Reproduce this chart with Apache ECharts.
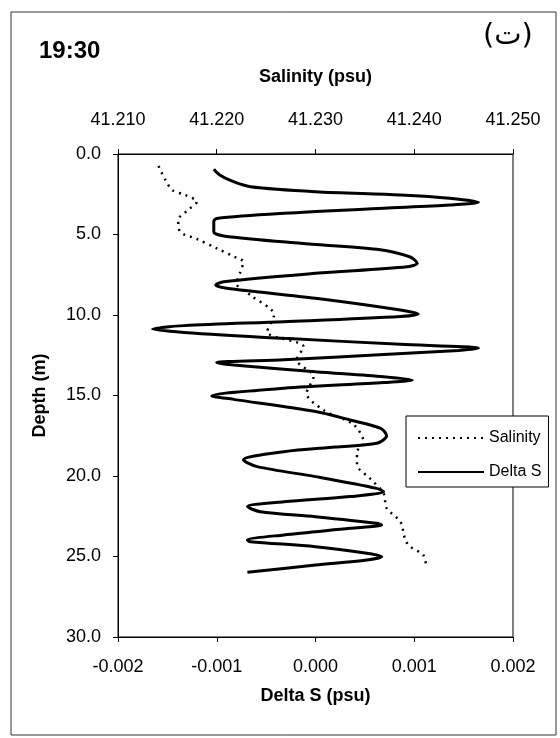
<!DOCTYPE html>
<html>
<head>
<meta charset="utf-8">
<script src="https://cdn.jsdelivr.net/npm/echarts@6/dist/echarts.min.js"></script>
<style>
html, body { margin: 0; padding: 0; background: #fff; }
#chart { width: 560px; height: 738px; }
</style>
</head>
<body>
<div id="chart"></div>
<script>
// Delta S profile (depth in m, value in psu)
var deltaDepth = [0.95, 1.3, 1.72, 2.03, 2.34, 2.55, 2.75, 3.0, 3.17, 3.37, 3.68, 4.0, 4.2, 4.83, 5.09, 5.55, 5.92, 6.4,
  6.79, 7.0, 7.41, 7.93, 8.14, 8.34, 8.96, 9.69, 9.94, 10.1, 10.42, 10.66, 10.87, 11.08, 11.45, 11.82, 12.07, 12.2,
  12.46, 12.78, 12.96, 13.1, 13.52, 13.83, 14.04, 14.2, 14.55, 15.03, 15.24, 16.0, 16.52, 17.04, 17.5, 17.97, 18.2,
  18.49, 19.0, 19.42, 20.04, 20.77, 20.97, 21.28, 21.6, 21.9, 22.22, 22.53, 22.94, 23.04, 23.25, 23.66, 23.98, 24.08,
  24.39, 24.8, 25.01, 25.22, 25.53, 25.98];
var deltaS = [-0.00103, -0.00097, -0.00083, -0.00066, 0.0, 0.00086, 0.00136, 0.00165, 0.00136, 0.00069, -0.00032, -0.00100, -0.00103, -0.00103, -0.00093, -0.00015, 0.00062, 0.00096,
  0.00103, 0.00093, 0.0, -0.00093, -0.00101, -0.00090, 0.0, 0.00086, 0.00104, 0.00086, -0.00032, -0.00133, -0.00165, -0.00133, -0.00032, 0.00086, 0.00165, 0.00145,
  0.00069, -0.00032, -0.00100, -0.00083, 0.0, 0.00069, 0.00098, 0.00069, -0.00032, -0.00105, -0.00083, 0.0, 0.00035, 0.00066, 0.00072, 0.00062, 0.00020,
  -0.00032, -0.00073, -0.00059, 0.0, 0.00062, 0.00069, 0.00035, -0.00032, -0.00069, -0.00056, 0.0, 0.00062, 0.00067, 0.00035, -0.00032, -0.00069, -0.00066,
  0.0, 0.00052, 0.00067, 0.00052, 0.0, -0.00069];

// Salinity profile (depth in m, value in psu)
var salDepth = [0.75, 1.61, 2.24, 2.55, 2.96, 3.43, 4.1, 4.83, 5.28, 5.86, 6.45, 6.69, 7.31, 8.03, 8.76, 10.0, 11.04,
  11.97, 12.8, 13.83, 14.86, 15.9, 16.83, 17.97, 18.49, 19.3, 20.14, 21.08, 22.0, 22.84, 23.98, 24.39, 24.9, 25.53];
var salinity = [41.2141, 41.2148, 41.2155, 41.2168, 41.2180, 41.2172, 41.2161, 41.2163, 41.2180, 41.2200, 41.2220, 41.2227, 41.2224, 41.2220, 41.2234, 41.2258, 41.2251,
  41.2288, 41.2281, 41.2298, 41.2291, 41.2308, 41.2339, 41.2349, 41.2342, 41.2342, 41.2355, 41.2369, 41.2372, 41.2386, 41.2391, 41.2396, 41.2409, 41.2412];

// axis ranges
var depthRange = [0, 30, 5];
var deltaRange = [-0.002, 0.002, 0.001];
var salRange = [41.21, 41.25, 0.01];

function pairs(xs, ys) {
  return xs.map(function (x, i) { return [x, ys[i]]; });
}

var font = 'Liberation Sans';
var nameStyle = { fontFamily: font, fontSize: 18, fontWeight: 'bold', color: '#000' };
var chart = echarts.init(document.getElementById('chart'));
chart.setOption({
  animation: false,
  textStyle: { fontFamily: font, color: '#000' },
  graphic: [
    {
      type: 'rect', silent: true, z: 0,
      shape: { x: 11, y: 12, width: 545, height: 723 },
      style: { fill: 'none', stroke: '#333', lineWidth: 1 }
    },
    {
      type: 'text', left: 39, top: 39,
      style: { text: '19:30', font: 'bold 24px "Liberation Sans"', fill: '#000' }
    },
    {
      type: 'text', left: 483, top: 22,
      style: { text: '(ت)', font: '29px "DejaVu Sans"', fill: '#000' }
    }
  ],
  grid: {
    left: 118, right: 47, top: 154, bottom: 101,
    show: true, borderColor: '#000', borderWidth: 1, backgroundColor: 'transparent'
  },
  legend: {
    orient: 'vertical',
    left: 406, top: 416,
    data: ['Salinity', 'Delta S'],
    itemWidth: 66, itemHeight: 14, itemGap: 18,
    padding: [14, 7, 7, 11],
    backgroundColor: '#fff',
    borderColor: '#000', borderWidth: 1,
    itemStyle: { color: 'rgba(0,0,0,0)', borderColor: 'rgba(0,0,0,0)', borderWidth: 0 },
    textStyle: { fontFamily: font, fontSize: 16, color: '#000' }
  },
  xAxis: [
    {
      type: 'value', position: 'bottom',
      min: deltaRange[0], max: deltaRange[1], interval: deltaRange[2],
      name: 'Delta S (psu)', nameLocation: 'middle', nameGap: 50, nameTextStyle: nameStyle,
      axisLine: { show: true, onZero: false, lineStyle: { color: '#000', width: 1 } },
      axisTick: { show: true, length: 5, lineStyle: { color: '#000' } },
      axisLabel: { margin: 21, fontSize: 18, color: '#000', fontFamily: font,
        formatter: function (v) { return v.toFixed(3); } },
      splitLine: { show: false }
    },
    {
      type: 'value', position: 'top',
      min: salRange[0], max: salRange[1], interval: salRange[2],
      name: 'Salinity (psu)', nameLocation: 'middle', nameGap: 68, nameTextStyle: nameStyle,
      axisLine: { show: true, onZero: false, lineStyle: { color: '#000', width: 1 } },
      axisTick: { show: true, length: 5, lineStyle: { color: '#000' } },
      axisLabel: { margin: 25, fontSize: 18, color: '#000', fontFamily: font,
        formatter: function (v) { return v.toFixed(3); } },
      splitLine: { show: false }
    }
  ],
  yAxis: {
    type: 'value', inverse: true, position: 'left',
    min: depthRange[0], max: depthRange[1], interval: depthRange[2],
    name: 'Depth (m)', nameLocation: 'middle', nameGap: 69, nameTextStyle: nameStyle,
    axisLine: { show: true, onZero: false, lineStyle: { color: '#000', width: 1 } },
    axisTick: { show: true, length: 5, lineStyle: { color: '#000' } },
    axisLabel: { margin: 17, fontSize: 18, color: '#000', fontFamily: font,
      formatter: function (v) { return v.toFixed(1); } },
    splitLine: { show: false }
  },
  series: [
    {
      name: 'Salinity', type: 'line', xAxisIndex: 1,
      data: pairs(salinity, salDepth),
      symbol: 'none', smooth: 0.3,
      lineStyle: { color: '#000', width: 2.5, type: [2, 5] },
      itemStyle: { color: '#000' }
    },
    {
      name: 'Delta S', type: 'line', xAxisIndex: 0,
      data: pairs(deltaS, deltaDepth),
      symbol: 'none', smooth: 0.3,
      lineStyle: { color: '#000', width: 3 },
      itemStyle: { color: '#000' }
    }
  ]
});
</script>
</body>
</html>
